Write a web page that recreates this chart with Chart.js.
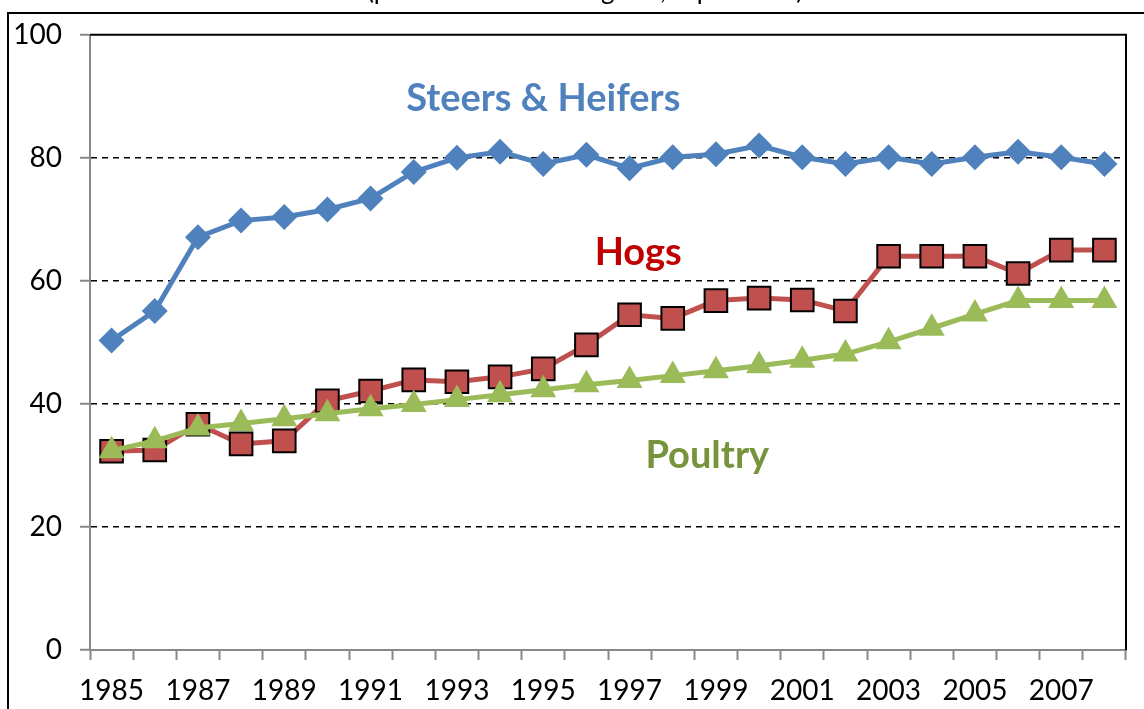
<!DOCTYPE html>
<html>
<head>
<meta charset="utf-8">
<script src="https://cdn.jsdelivr.net/npm/chart.js@4"></script>
<style>
  html, body { margin: 0; padding: 0; background: #fff; }
  canvas { display: block; }
</style>
</head>
<body>
<canvas id="chart" width="1144" height="709"></canvas>
<script>
const years = ["1985", "1986", "1987", "1988", "1989", "1990", "1991", "1992",
  "1993", "1994", "1995", "1996", "1997", "1998", "1999", "2000",
  "2001", "2002", "2003", "2004", "2005", "2006", "2007", "2008"];

const steers = [50.3, 55.1, 67.1, 69.8, 70.4, 71.6, 73.4, 77.7, 80.0, 81.0, 79.0, 80.5,
  78.3, 80.1, 80.6, 82.0, 80.1, 79.0, 80.1, 79.0, 80.1, 81.0, 80.1, 79.0];
const hogs = [32.3, 32.5, 36.7, 33.5, 34.0, 40.5, 42.1, 43.9, 43.6, 44.4, 45.7, 49.6,
  54.5, 53.9, 56.8, 57.2, 56.9, 55.1, 64.0, 64.0, 64.0, 61.2, 65.0, 65.0];
const poultry = [32.4, 34.0, 36.1, 36.8, 37.6, 38.4, 39.2, 39.9, 40.7, 41.5, 42.3, 43.1,
  43.8, 44.6, 45.4, 46.2, 47.1, 48.1, 50.1, 52.3, 54.6, 56.8, 56.8, 56.8];

// series labels placed at (category index, value)
const seriesLabels = [
  { text: "Steers & Heifers", at: 10.0, value: 89.6, color: "#4F81BD" },
  { text: "Hogs", at: 12.2, value: 64.6, color: "#C00000" },
  { text: "Poultry", at: 13.8, value: 31.6, color: "#77933C" },
];
const title = "(percent of total slaughter, top 4 firms)";

const FONT = "Lato";

const frame = {
  id: "frame",
  afterDraw(chart) {
    const ctx = chart.ctx;
    const { left, top, right, bottom } = chart.chartArea;
    ctx.save();
    ctx.strokeStyle = "#000";
    ctx.lineWidth = 2;
    ctx.beginPath();
    ctx.moveTo(left, top);
    ctx.lineTo(right, top);
    ctx.lineTo(right, bottom);
    ctx.stroke();
    // outer box, cut by the page edges
    ctx.beginPath();
    ctx.moveTo(8, 709);
    ctx.lineTo(8, 13);
    ctx.lineTo(1144, 13);
    ctx.stroke();

    ctx.fillStyle = "#000";
    ctx.font = "26px " + FONT;
    ctx.textAlign = "center";
    ctx.textBaseline = "alphabetic";
    ctx.fillText(title, 585, -1);

    ctx.font = "bold 38px " + FONT;
    ctx.textBaseline = "middle";
    seriesLabels.forEach(l => {
      ctx.fillStyle = l.color;
      ctx.fillText(l.text, chart.scales.x.getPixelForValue(l.at), chart.scales.y.getPixelForValue(l.value));
    });
    ctx.restore();
  }
};

new Chart(document.getElementById("chart"), {
  type: "line",
  data: {
    labels: years,
    datasets: [
      {
        label: "Steers & Heifers",
        data: steers,
        borderColor: "#4F81BD",
        backgroundColor: "#4F81BD",
        borderWidth: 5,
        pointStyle: "rectRot",
        pointRadius: 13,
        pointBorderWidth: 0,
        order: 2,
      },
      {
        label: "Hogs",
        data: hogs,
        borderColor: "#C0504D",
        backgroundColor: "#C0504D",
        borderWidth: 5,
        pointStyle: "rect",
        pointRadius: 16,
        pointBorderColor: "#000",
        pointBorderWidth: 2,
        order: 1,
      },
      {
        label: "Poultry",
        data: poultry,
        borderColor: "#9BBB59",
        backgroundColor: "#9BBB59",
        borderWidth: 5,
        pointStyle: "triangle",
        pointRadius: 15,
        pointBorderWidth: 0,
        order: 0,
      },
    ],
  },
  options: {
    responsive: false,
    animation: false,
    devicePixelRatio: 1,
    layout: { padding: { top: 33, right: 16, left: 0, bottom: 0 } },
    elements: { line: { tension: 0 } },
    plugins: {
      legend: { display: false },
      tooltip: { enabled: false },
    },
    scales: {
      x: {
        offset: true,
        afterFit: s => { s.height = 59; },
        ticks: {
          autoSkip: false,
          maxRotation: 0,
          color: "#000",
          font: { family: FONT, size: 28 },
          padding: 14,
          callback: (v, i) => (i % 2 === 0 ? years[i] : ""),
        },
        grid: {
          offset: true,
          drawOnChartArea: false,
          tickLength: 10,
          tickColor: "#888",
          tickWidth: 2,
        },
        border: { color: "#888", width: 2 },
      },
      y: {
        min: 0,
        max: 100,
        afterFit: s => { s.width = 90; },
        ticks: {
          stepSize: 20,
          color: "#000",
          font: { family: FONT, size: 28 },
          padding: 18,
        },
        grid: {
          color: c => (c.tick && c.tick.value > 0 && c.tick.value < 100 ? "#000" : "rgba(0,0,0,0)"),
          lineWidth: 1.5,
          tickLength: 10,
          tickColor: "#888",
          tickWidth: 2,
          tickBorderDash: [],
        },
        border: { color: "#888", width: 2, dash: [6, 5] },
      },
    },
  },
  plugins: [frame],
});
</script>
</body>
</html>
